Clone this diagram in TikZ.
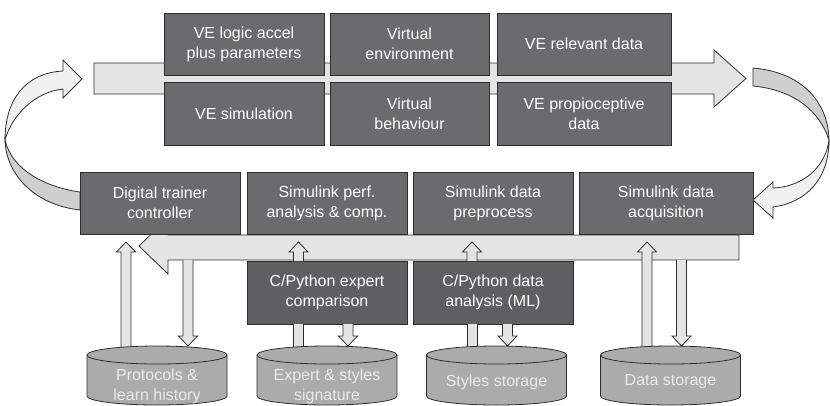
\documentclass[tikz,border=0pt]{standalone}
\usepackage{fontspec}
\setmainfont{Liberation Sans}
\definecolor{boxg}{HTML}{6B6B6D}
\definecolor{boxd}{HTML}{5F5F61}
\definecolor{barg}{HTML}{E4E4E4}
\definecolor{cylg}{HTML}{ABABAB}
\definecolor{cyltxt}{HTML}{EAEAEA}
\definecolor{edgec}{HTML}{2E2E2E}
\definecolor{banddark}{HTML}{CFCFCF}
\definecolor{bandlight}{HTML}{F0F0F0}
\tikzset{
  procbox/.style={draw=edgec, line width=0.8pt, fill=boxg, text=white,
    font=\fontsize{16}{20}\selectfont, align=center, inner sep=0pt},
  barst/.style={draw=edgec, line width=0.8pt, fill=barg, line join=miter},
  blkst/.style={draw=edgec, line width=0.8pt, fill=barg, line join=miter},
  cylst/.style={draw=edgec, line width=0.8pt, fill=cylg},
  cyltext/.style={text=cyltxt, font=\fontsize{16}{20}\selectfont, align=center, inner sep=0pt},
  bandd/.style={draw=edgec, line width=0.8pt, fill=banddark, line join=miter},
  bandl/.style={draw=edgec, line width=0.8pt, fill=bandlight, line join=miter}
}
\newcommand\blkup[3]{\filldraw[blkst] (#1-5,#2) -- (#1-5,#3+10) -- (#1-9.5,#3+10) -- (#1,#3) -- (#1+9.5,#3+10) -- (#1+5,#3+10) -- (#1+5,#2);}
\newcommand\blkdn[3]{\filldraw[blkst] (#1-5,#2) -- (#1-5,#3-10) -- (#1-9.5,#3-10) -- (#1,#3) -- (#1+9.5,#3-10) -- (#1+5,#3-10) -- (#1+5,#2);}
\newcommand\blkshaft[3]{\fill[barg] (#1-5,#2) rectangle (#1+5,#3); \draw[edgec, line width=0.8pt] (#1-5,#2) -- (#1-5,#3) (#1+5,#2) -- (#1+5,#3);}
\newcommand\cylat[4]{%
  \filldraw[cylst] (#1-70,355) -- (#1-70,396) arc[start angle=180,end angle=360,x radius=70pt,y radius=9pt] -- (#1+70,355) arc[start angle=0,end angle=180,x radius=70pt,y radius=9pt] -- cycle;
  \draw[cylst, fill=none] (#1-70,355) arc[start angle=180,end angle=360,x radius=70pt,y radius=9pt];
  \node[cyltext] (#2) at (#1,#3) {#4};}
\begin{document}
\begin{tikzpicture}[x=1pt, y=-1pt]
\useasboundingbox (0,0) rectangle (830,405);
% top bar arrow
\filldraw[barst] (94,63) -- (714,63) -- (714,50) -- (746,78.5) -- (714,107) -- (714,94) -- (94,94) -- cycle;
% top boxes
\node[procbox, minimum width=160pt, minimum height=62pt] (ve1) at (244,44) {VE logic accel\\plus parameters};
\node[procbox, minimum width=159pt, minimum height=62pt] (ve2) at (409.5,44) {Virtual\\environment};
\node[procbox, minimum width=174pt, minimum height=62pt] (ve3) at (584,44) {VE relevant data};
\node[procbox, minimum width=160pt, minimum height=63pt] (ve4) at (244,113.5) {VE simulation};
\node[procbox, minimum width=159pt, minimum height=63pt] (ve5) at (409.5,113.5) {Virtual\\behaviour};
\node[procbox, minimum width=174pt, minimum height=63pt] (ve6) at (584,113.5) {VE propioceptive\\data};
% left curved arrow
\filldraw[bandd] (80,192) .. controls (45,187) and (12,170) .. (5,140) .. controls (6,175) and (35,205) .. (80,210) -- cycle;
\filldraw[bandl] (5,140) .. controls (5,100) and (25,73) .. (63,71) -- (63,60) -- (82,79) -- (63,98) -- (63,89) .. controls (35,92) and (12,115) .. (5,140) -- cycle;
% right curved arrow
\filldraw[bandd] (753,68) .. controls (800,72) and (828,100) .. (829,140) .. controls (820,112) and (795,90) .. (753,86) -- cycle;
\filldraw[bandl] (829,140) .. controls (825,170) and (800,187) .. (773,188) -- (773,182) -- (753,200) -- (773,218) -- (773,207) .. controls (805,203) and (829,180) .. (829,140) -- cycle;
% bottom bar arrow
\filldraw[barst] (739,235) -- (739,260) -- (168,260) -- (168,274) -- (139,246) -- (168,218) -- (168,235) -- cycle;
% bottom boxes
\node[procbox, minimum width=160pt, minimum height=62pt] (dtc) at (160,203) {Digital trainer\\controller};
\node[procbox, minimum width=160pt, minimum height=62pt] (spa) at (327,203) {Simulink perf.\\analysis \& comp.};
\node[procbox, minimum width=160pt, minimum height=62pt] (sdp) at (493,203) {Simulink data\\preprocess};
\node[procbox, minimum width=174pt, minimum height=62pt] (sda) at (666,203) {Simulink data\\acquisition};
\node[procbox, fill=boxd, minimum width=160pt, minimum height=63pt] (cpe) at (327,292.5) {C/Python expert\\comparison};
\node[procbox, fill=boxd, minimum width=160pt, minimum height=63pt] (cpd) at (493,292.5) {C/Python data\\analysis (ML)};
% vertical block arrows
\blkup{126}{355}{242}
\blkdn{188}{260}{346}
\blkup{298.5}{261}{242}
\blkshaft{298.5}{324}{355}
\blkdn{348}{324}{346}
\blkup{472}{261}{242}
\blkshaft{472}{324}{355}
\blkdn{507.5}{324}{346}
\blkup{647}{355}{242}
\blkdn{681.5}{260}{346}
% cylinders
\cylat{157}{prot}{386}{Protocols \&\\learn history}
\cylat{327}{expsig}{386}{Expert \& styles\\signature}
\cylat{496.5}{sty}{382}{Styles storage}
\cylat{670.5}{dat}{382}{Data storage}
\end{tikzpicture}
\end{document}
